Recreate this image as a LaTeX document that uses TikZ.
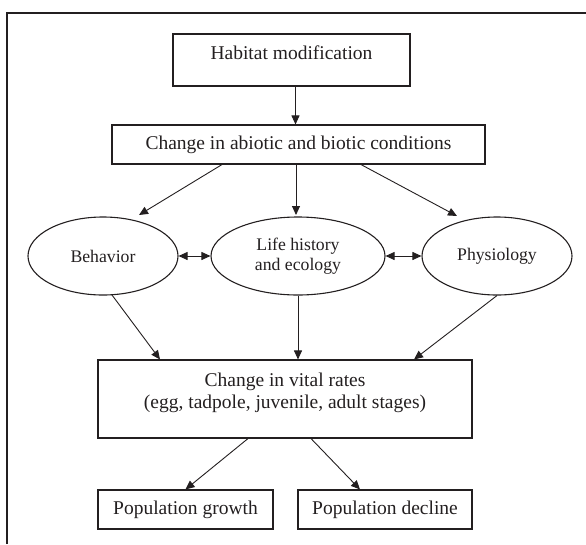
\documentclass[tikz,border=0pt]{standalone}
\usepackage{fontspec}
\setmainfont{Liberation Serif}
\usetikzlibrary{arrows.meta,shapes.geometric,calc}
\newcommand\liftup[2]{\raisebox{0pt}[\height][\dimexpr\depth+#1\relax]{#2}}
\definecolor{ink}{RGB}{35,31,32}
\begin{document}
\begin{tikzpicture}[x=1pt,y=-1pt,
  box/.style={draw=ink,line width=1.1pt,rectangle,inner sep=0pt,text=ink,font=\fontsize{19.5}{22}\selectfont,align=center},
  oval/.style={draw=ink,line width=1.1pt,ellipse,inner sep=0pt,minimum height=78pt,text=ink,font=\fontsize{17.7}{20}\selectfont,align=center},
  conn/.style={draw=ink,line width=0.9pt,-{Triangle[length=9pt,width=8pt]}},
  dconn/.style={draw=ink,line width=0.9pt,{Triangle[length=9pt,width=8pt]}-{Triangle[length=9pt,width=8pt]}}]
\useasboundingbox (0,0) rectangle (586,544);
\draw[ink,line width=1.7pt,line join=miter] (7,544) -- (7,13) -- (586,13);

\node[box,minimum width=237pt,minimum height=52pt] (hab) at (291.5,60) {\liftup{14pt}{Habitat modification}};
\node[box,minimum width=373pt,minimum height=39pt] (chg) at (298.5,144.5) {Change in abiotic and biotic conditions};
\node[oval,minimum width=150pt] (beh) at (103,256) {Behavior};
\node[oval,minimum width=174pt] (life) at (298,256) {Life history\\and ecology};
\node[oval,minimum width=150pt] (phys) at (497,256) {Physiology};
\node[box,minimum width=374pt,minimum height=78pt] (vit) at (285,399) {\liftup{12pt}{\begin{tabular}{@{}c@{}}Change in vital rates\\(egg, tadpole, juvenile, adult stages)\end{tabular}}};
\node[box,minimum width=175pt,minimum height=39pt] (pg) at (185.5,509.5) {Population growth};
\node[box,minimum width=174pt,minimum height=39pt] (pd) at (385,509.5) {Population decline};

\draw[conn] ($(hab.south)+(4,0)$) -- ($(chg.north)+(-3,0)$);
\draw[conn] ($(chg.south)+(-76.5,0)$) -- ($(beh.center)+(36,-41)$);
\draw[conn] ($(chg.south)+(-2.5,0)$) -- ($(life.center)+(-2,-41)$);
\draw[conn] ($(chg.south)+(62.5,0)$) -- ($(phys.center)+(-40,-40)$);
\draw[dconn] (beh.east) -- (life.west);
\draw[dconn] (life.east) -- (phys.west);
\draw[conn] ($(beh.center)+(9,39)$) -- ($(vit.north)+(-125,0)$);
\draw[conn] (life.south) -- (life.south |- vit.north);
\draw[conn] (phys.south) -- ($(vit.north)+(129,0)$);
\draw[conn] ($(vit.south)+(-37,0)$) -- (pg.north);
\draw[conn] ($(vit.south)+(26,0)$) -- ($(pd.north)+(-25,0)$);
\end{tikzpicture}
\end{document}
